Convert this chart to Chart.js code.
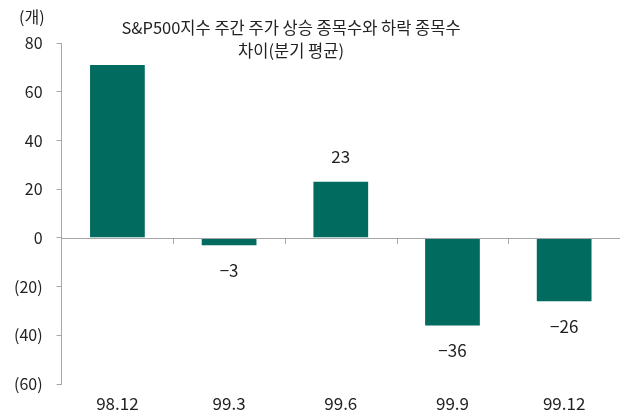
<!DOCTYPE html>
<html>
<head>
<meta charset="utf-8">
<script src="https://cdn.jsdelivr.net/npm/chart.js@4"></script>
<style>
  body { margin: 0; background: #fff; }
</style>
</head>
<body>
<canvas id="myChart" width="626" height="419"></canvas>
<script>
// data
const categories = ["98.12", "99.3", "99.6", "99.9", "99.12"];
const diffValues = [71, -3, 23, -36, -26];
const valueLabels = [null, "\u22123", "23", "\u221236", "\u221226"];
const titleLines = ["S&P500지수 주간 주가 상승 종목수와 하락 종목수", "차이(분기 평균)"];
const unitLabel = "(개)";

const FONT = "'Noto Sans CJK KR', 'Noto Sans', sans-serif";
const barColor = "#006b5e";
const axisColor = "#a6a6a6";

// zero line, boundary ticks, value labels, title
const extras = {
  id: "extras",
  afterDraw(chart) {
    let ctx = chart.ctx;
    let x = chart.scales.x;
    let y = chart.scales.y;
    let area = chart.chartArea;
    let y0 = y.getPixelForValue(0);

    ctx.save();
    ctx.strokeStyle = axisColor;
    ctx.lineWidth = 1;
    ctx.beginPath();
    ctx.moveTo(area.left, Math.round(y0) + 0.5);
    ctx.lineTo(area.right, Math.round(y0) + 0.5);
    let step = x.getPixelForValue(1) - x.getPixelForValue(0);
    for (let i = 1; i < categories.length; i++) {
      let bx = Math.round(x.getPixelForValue(i) - step / 2) + 0.5;
      ctx.moveTo(bx, y0);
      ctx.lineTo(bx, y0 + 6);
    }
    ctx.stroke();

    // value labels
    let meta = chart.getDatasetMeta(0);
    ctx.fillStyle = "#222";
    ctx.font = "17px " + FONT;
    ctx.textAlign = "center";
    ctx.textBaseline = "middle";
    meta.data.forEach((bar, i) => {
      if (!valueLabels[i]) return;
      let off = diffValues[i] >= 0 ? -25 : 25;
      ctx.fillText(valueLabels[i], bar.x, bar.y + off);
    });

    // title
    ctx.font = "16.5px " + FONT;
    ctx.fillText(titleLines[0], 291, 28);
    ctx.fillText(titleLines[1], 291, 51);

    // unit
    ctx.textAlign = "left";
    ctx.font = "16px " + FONT;
    ctx.fillText(unitLabel, 19, 17);
    ctx.restore();
  },
};

new Chart(document.getElementById("myChart"), {
  type: "bar",
  data: {
    labels: categories,
    datasets: [
      {
        data: diffValues,
        backgroundColor: barColor,
        categoryPercentage: 1,
        barPercentage: 0.49,
      },
    ],
  },
  options: {
    responsive: false,
    animation: false,
    layout: { padding: { top: 43, right: 6, left: 0, bottom: 4 } },
    plugins: {
      legend: { display: false },
      tooltip: { enabled: false },
      title: { display: false },
    },
    scales: {
      x: {
        grid: { display: false },
        border: { display: false },
        ticks: {
          color: "#222",
          font: { family: FONT, size: 17, lineHeight: 1 },
          padding: 3,
        },
      },
      y: {
        min: -60,
        max: 80,
        ticks: {
          stepSize: 20,
          color: "#222",
          font: { family: FONT, size: 16 },
          padding: 14,
          callback: (v) => (v < 0 ? "(" + -v + ")" : v),
        },
        grid: { drawOnChartArea: false, tickLength: 5, color: axisColor },
        border: { color: axisColor },
      },
    },
  },
  plugins: [extras],
});
</script>
</body>
</html>
